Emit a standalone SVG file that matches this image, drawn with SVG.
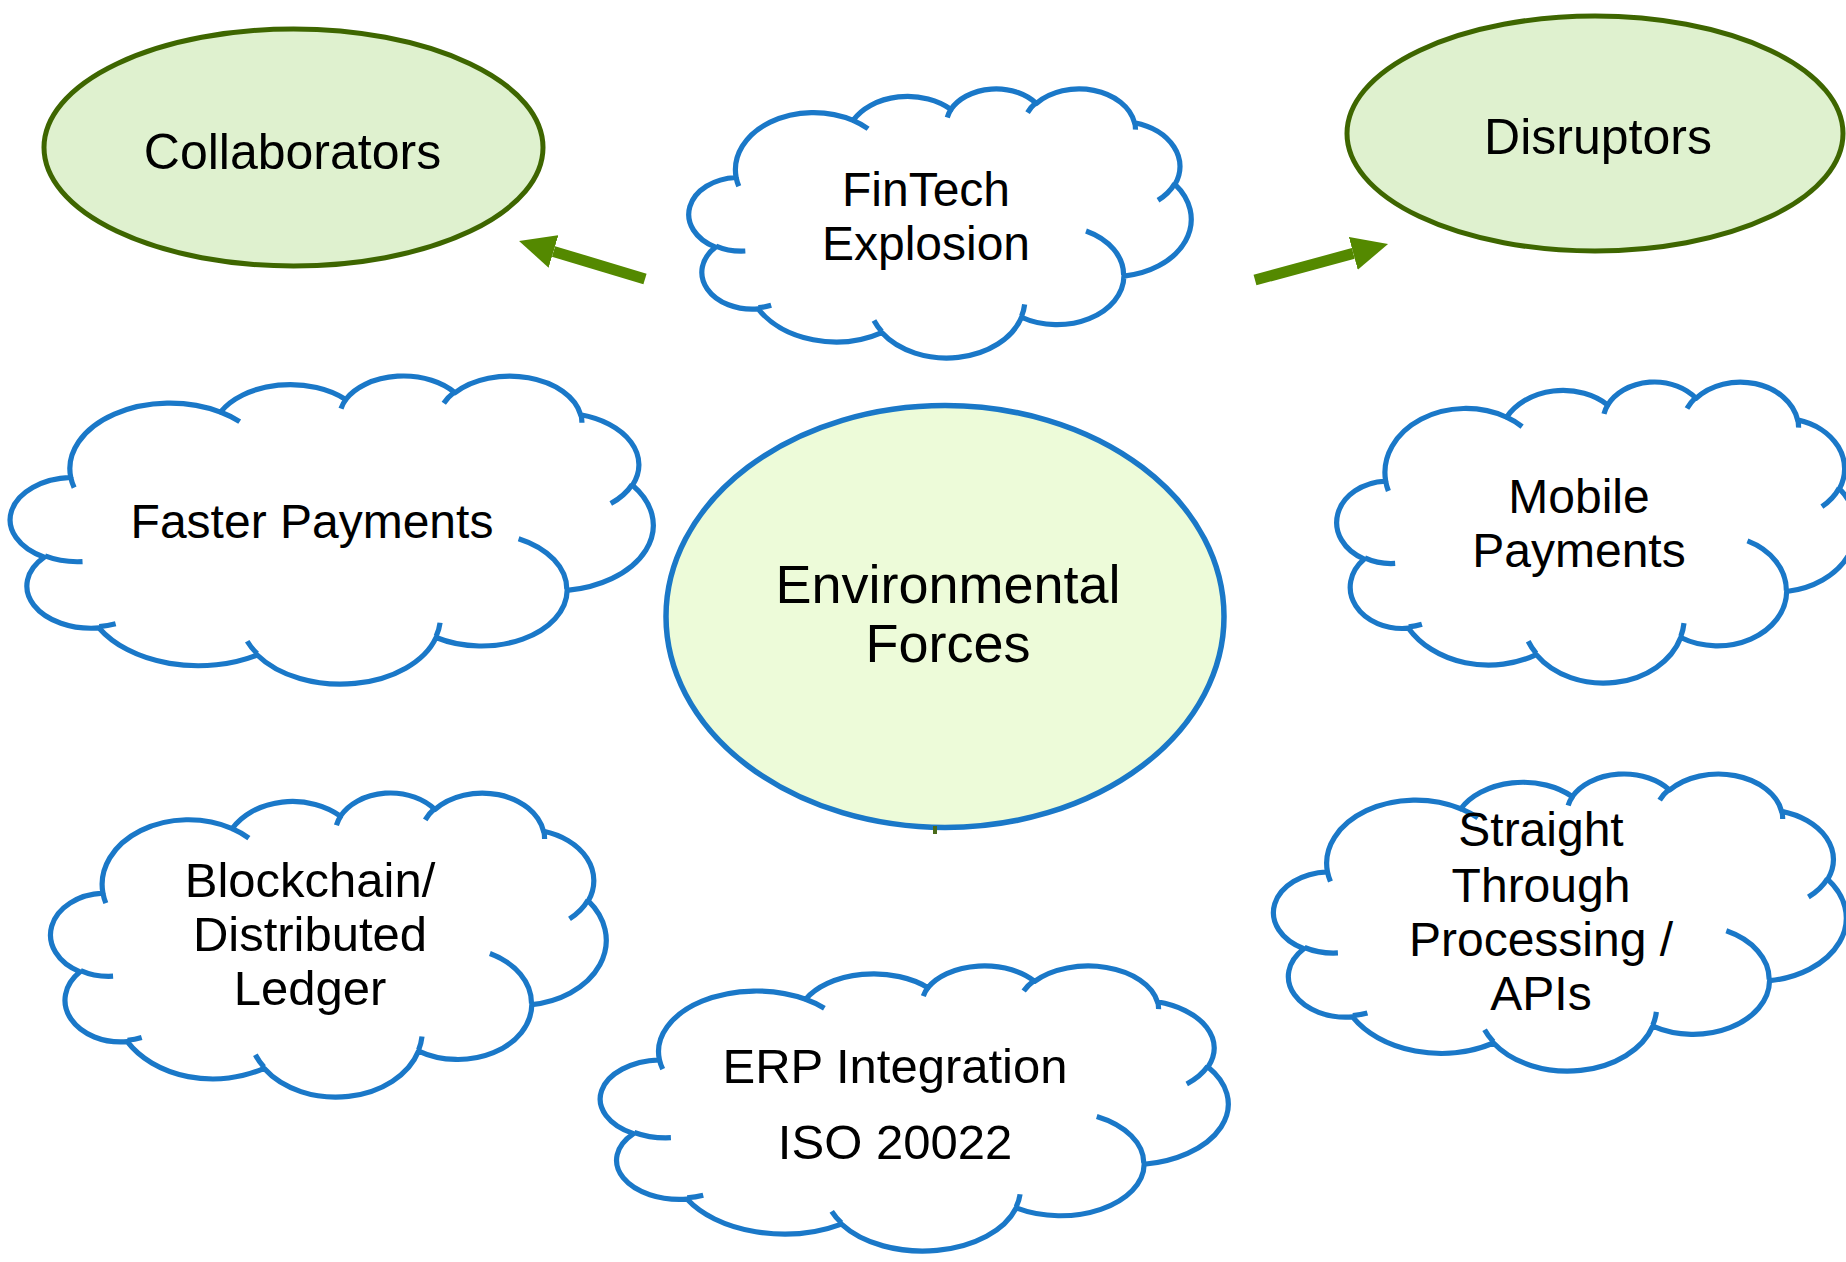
<svg xmlns="http://www.w3.org/2000/svg" xmlns:xlink="http://www.w3.org/1999/xlink" width="1846" height="1262" viewBox="0 0 1846 1262">
  <style>
    .cloud { fill: #ffffff; stroke: #1a78c8; stroke-width: 5.2; stroke-linejoin: round; }
    .hook { fill: none; stroke: #1a78c8; stroke-width: 5.2; stroke-linecap: butt; }
    .lbl { font-family: "Liberation Sans", Arial, sans-serif; fill: #000000; text-anchor: middle; }
    .t48 { font-size: 48px; }
    .t49 { font-size: 49px; }
    .t50 { font-size: 50px; }
    .t54 { font-size: 54px; }
    .actor { fill: #dff1cf; stroke: #3e6600; stroke-width: 5; }
    .env { fill: #edfbd9; stroke: #1a78c8; stroke-width: 5.5; }
    .arrow { stroke: #548900; stroke-width: 11; fill: none; stroke-linecap: butt; }
  </style>
  <defs>
    <path id="cloudBody" vector-effect="non-scaling-stroke" d="M9.028,33.264 A15.632,21.273 0 0 1 32.418,12.041 A12.345,16.822 0 0 1 51.981,7.953 A10.104,13.762 0 0 1 69.056,5.748 A11.243,15.266 0 0 1 88.697,12.912 A12.345,16.836 0 0 1 96.801,35.792 A15.683,21.343 0 0 1 86.586,69.924 A13.391,18.211 0 0 1 66.104,85.226 A15.630,21.331 0 0 1 38.154,90.906 A17.870,24.405 0 0 1 13.437,82.120 A10.093,13.699 0 0 1 4.888,59.158 A10.058,13.762 0 0 1 9.028,33.264 Z"/>
    <path id="cloudHooks" vector-effect="non-scaling-stroke" d="M10.863,60.595 A10.058,13.762 0 0 1 4.998,58.749 M16.037,80.785 A10.093,13.699 0 0 1 13.470,81.669 M38.144,90.486 A15.630,21.331 0 0 1 36.595,86.452 M66.729,80.442 A15.630,21.331 0 0 1 66.112,84.860 M79.002,53.134 A13.391,18.211 0 0 1 86.529,69.652 M96.755,35.542 A12.345,16.836 0 0 1 93.400,41.739 M88.713,12.560 A11.243,15.266 0 0 1 88.890,15.485 M67.310,9.148 A11.243,15.266 0 0 1 69.026,5.421 M51.252,10.926 A10.104,13.762 0 0 1 52.084,7.709 M32.407,12.019 A15.632,21.273 0 0 1 35.421,15.146 M9.553,36.549 A15.632,21.273 0 0 1 9.028,33.264"/>
    <marker id="head" markerUnits="userSpaceOnUse" viewBox="0 0 36 34" refX="0" refY="17" markerWidth="36" markerHeight="34" orient="auto">
      <path d="M0,0 L36,17 L0,34 Z" fill="#548900"/>
    </marker>
  </defs>

  <g id="collaborators">
    <ellipse class="actor" cx="293.5" cy="147.5" rx="249.5" ry="118.5"/>
    <text class="lbl t50" x="292.5" y="169">Collaborators</text>
  </g>

  <g id="disruptors">
    <ellipse class="actor" cx="1595" cy="133.5" rx="248" ry="117.5"/>
    <text class="lbl t50" x="1598" y="154">Disruptors</text>
  </g>

  <g id="environmental-forces">
    <ellipse class="env" cx="945" cy="616.5" rx="279" ry="211"/>
    <text class="lbl t54" x="948" y="603">Environmental</text>
    <text class="lbl t54" x="948" y="662">Forces</text>
  </g>

  <g id="fintech-explosion">
    <g transform="translate(691,88) scale(5,2.69)">
      <use xlink:href="#cloudBody" class="cloud"/>
      <use xlink:href="#cloudHooks" class="hook"/>
    </g>
    <text class="lbl t48" x="926" y="206">FinTech</text>
    <text class="lbl t48" x="926" y="260">Explosion</text>
  </g>

  <g id="faster-payments">
    <g transform="translate(13,375) scale(6.4,3.08)">
      <use xlink:href="#cloudBody" class="cloud"/>
      <use xlink:href="#cloudHooks" class="hook"/>
    </g>
    <text class="lbl t48" x="312" y="538">Faster Payments</text>
  </g>

  <g id="mobile-payments">
    <g transform="translate(1339,381) scale(5.17,3.01)">
      <use xlink:href="#cloudBody" class="cloud"/>
      <use xlink:href="#cloudHooks" class="hook"/>
    </g>
    <text class="lbl t48" x="1579" y="513">Mobile</text>
    <text class="lbl t48" x="1579" y="567">Payments</text>
  </g>

  <g id="straight-through-processing">
    <g transform="translate(1276,773) scale(5.7,2.97)">
      <use xlink:href="#cloudBody" class="cloud"/>
      <use xlink:href="#cloudHooks" class="hook"/>
    </g>
    <text class="lbl t48" x="1541" y="846">Straight</text>
    <text class="lbl t48" x="1541" y="902">Through</text>
    <text class="lbl t48" x="1541" y="956">Processing /</text>
    <text class="lbl t48" x="1541" y="1010">APIs</text>
  </g>

  <g id="blockchain">
    <g transform="translate(53,792) scale(5.53,3.04)">
      <use xlink:href="#cloudBody" class="cloud"/>
      <use xlink:href="#cloudHooks" class="hook"/>
    </g>
    <text class="lbl t49" x="310" y="897">Blockchain/</text>
    <text class="lbl t49" x="310" y="951">Distributed</text>
    <text class="lbl t49" x="310" y="1005">Ledger</text>
  </g>

  <g id="erp-integration">
    <g transform="translate(603,965) scale(6.25,2.85)">
      <use xlink:href="#cloudBody" class="cloud"/>
      <use xlink:href="#cloudHooks" class="hook"/>
    </g>
    <text class="lbl t49" x="895" y="1083">ERP Integration</text>
    <text class="lbl t49" x="895" y="1159">ISO 20022</text>
  </g>

  <g id="connectors">
    <line class="arrow" x1="645" y1="279" x2="553.5" y2="251.4" marker-end="url(#head)"/>
    <line class="arrow" x1="1255" y1="280" x2="1353.3" y2="253.4" marker-end="url(#head)"/>
    <line x1="935" y1="826" x2="935" y2="834" stroke="#4a6b1a" stroke-width="4"/>
  </g>
</svg>
